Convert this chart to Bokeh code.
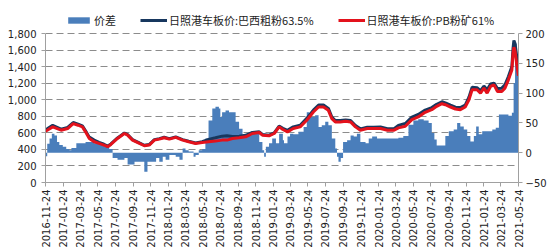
import numpy as np
import pandas as pd
from bokeh.plotting import figure
from bokeh.models import Range1d, LinearAxis, FixedTicker, NumeralTickFormatter, Legend, LegendItem
from bokeh.embed import file_html
from bokeh.resources import INLINE

# ---- data ----
line_dates = [
    "2016-11-24", "2016-11-30", "2016-12-19", "2017-01-17", "2017-02-09", "2017-02-28", "2017-03-17",
    "2017-04-01", "2017-04-12", "2017-04-25", "2017-05-12", "2017-05-29", "2017-06-15", "2017-06-28",
    "2017-07-09", "2017-08-01", "2017-08-25", "2017-09-05", "2017-09-22", "2017-10-16", "2017-11-02",
    "2017-11-19", "2017-12-07", "2017-12-24", "2018-01-10", "2018-01-28", "2018-02-19", "2018-03-15",
    "2018-04-05", "2018-04-29", "2018-05-22", "2018-06-13", "2018-07-07", "2018-07-30", "2018-08-16",
    "2018-09-04", "2018-09-27", "2018-10-20", "2018-11-12", "2018-12-06", "2018-12-17", "2019-01-09",
    "2019-01-27", "2019-02-13", "2019-02-26", "2019-03-14", "2019-04-03", "2019-04-27", "2019-05-20",
    "2019-06-12", "2019-06-30", "2019-07-17", "2019-08-03", "2019-08-15", "2019-08-27", "2019-09-13",
    "2019-10-02", "2019-10-19", "2019-11-05", "2019-11-22", "2019-12-16", "2020-01-07", "2020-01-31",
    "2020-02-24", "2020-03-18", "2020-04-02", "2020-04-26", "2020-05-19", "2020-06-10", "2020-07-04",
    "2020-07-27", "2020-08-13", "2020-08-31", "2020-09-12", "2020-09-30", "2020-10-17", "2020-11-03",
    "2020-11-20", "2020-12-03", "2020-12-14", "2020-12-31", "2021-01-12", "2021-01-24", "2021-02-04",
    "2021-02-16", "2021-02-28", "2021-03-12", "2021-03-27", "2021-04-07", "2021-04-19", "2021-05-01",
    "2021-05-05", "2021-05-08", "2021-05-12", "2021-05-18", "2021-05-24",
]
pb_price = [
    620, 632, 672, 632, 652, 712, 692, 672, 612, 532, 492, 472, 452, 432,
    460, 532, 592, 572, 512, 472, 444, 452, 512, 524, 540, 524, 545, 512,
    492, 472, 484, 492, 500, 512, 512, 532, 540, 552, 592, 604, 572, 564,
    592, 672, 640, 612, 652, 672, 752, 852, 912, 912, 872, 772, 732, 732,
    740, 732, 672, 632, 652, 652, 652, 632, 632, 660, 680, 760, 792, 848,
    880, 920, 952, 940, 912, 888, 880, 912, 1000, 1120, 1120, 1080, 1140, 1080,
    1160, 1180, 1100, 1100, 1140, 1240, 1360, 1560, 1634, 1590, 1420, 1290,
]
brazil_price = [
    635, 648, 690, 645, 665, 725, 705, 685, 625, 548, 512, 485, 462, 440,
    466, 538, 598, 578, 518, 478, 450, 458, 518, 530, 546, 530, 551, 518,
    498, 478, 494, 520, 540, 560, 565, 555, 560, 570, 605, 612, 580, 572,
    600, 682, 655, 630, 672, 692, 775, 875, 935, 935, 895, 790, 748, 748,
    755, 748, 688, 648, 668, 668, 670, 650, 650, 690, 712, 790, 822, 875,
    905, 945, 975, 962, 935, 910, 905, 935, 1030, 1150, 1145, 1110, 1165, 1120,
    1190, 1200, 1135, 1140, 1180, 1280, 1400, 1620, 1715, 1680, 1520, 1360,
]
spread_dates = [
    "2016-11-24", "2016-11-26", "2016-11-30", "2016-12-08", "2016-12-16", "2016-12-25", "2017-01-03",
    "2017-01-11", "2017-01-23", "2017-02-04", "2017-02-15", "2017-02-22", "2017-03-11", "2017-03-26",
    "2017-04-12", "2017-04-25", "2017-05-12", "2017-05-29", "2017-06-15", "2017-07-03", "2017-07-15",
    "2017-08-01", "2017-08-25", "2017-09-05", "2017-09-22", "2017-09-29", "2017-10-22", "2017-11-02",
    "2017-11-13", "2017-11-26", "2017-12-13", "2017-12-24", "2018-01-05", "2018-01-15", "2018-01-28",
    "2018-02-19", "2018-03-04", "2018-03-15", "2018-03-25", "2018-04-05", "2018-04-22", "2018-04-29",
    "2018-05-10", "2018-05-22", "2018-06-02", "2018-06-13", "2018-06-26", "2018-07-07", "2018-07-19",
    "2018-07-24", "2018-07-30", "2018-08-11", "2018-08-23", "2018-09-04", "2018-09-15", "2018-09-27",
    "2018-10-09", "2018-10-20", "2018-11-12", "2018-11-24", "2018-12-06", "2018-12-17", "2018-12-23",
    "2018-12-29", "2019-01-09", "2019-01-20", "2019-02-02", "2019-02-13", "2019-02-26", "2019-03-02",
    "2019-03-14", "2019-03-23", "2019-04-03", "2019-04-21", "2019-05-09", "2019-05-20", "2019-05-29",
    "2019-06-18", "2019-06-30", "2019-07-11", "2019-07-23", "2019-08-03", "2019-08-15", "2019-08-27",
    "2019-09-02", "2019-09-07", "2019-09-15", "2019-09-23", "2019-10-07", "2019-10-19", "2019-10-30",
    "2019-11-10", "2019-11-22", "2019-12-10", "2019-12-21", "2020-01-02", "2020-01-19", "2020-03-18",
    "2020-04-02", "2020-04-19", "2020-05-07", "2020-05-24", "2020-06-10", "2020-06-29", "2020-07-16",
    "2020-07-27", "2020-08-05", "2020-08-13", "2020-08-31", "2020-09-12", "2020-09-24", "2020-10-11",
    "2020-10-23", "2020-11-03", "2020-11-15", "2020-11-27", "2020-12-08", "2020-12-20", "2020-12-28",
    "2021-01-06", "2021-01-18", "2021-02-04", "2021-02-22", "2021-03-06", "2021-03-17", "2021-04-01",
    "2021-04-19", "2021-05-01", "2021-05-07", "2021-05-12", "2021-05-18", "2021-05-24",
]
spread = [
    -6, -6, 15, 24, 32, 29, 18,
    13, 10, 6, 4, 8, 16, 16,
    18, 18, 16, 13, 10, 6, -9,
    -12, -9, -20, -20, -15, -15, -32,
    -15, -15, -9, -15, -7, -12, -4,
    -7, -12, 7, 4, 2, -7, -4,
    4, 6, 24, 54, 74, 77, 74,
    60, 68, 71, 68, 68, 52, 40,
    29, 32, 35, 35, 18, 4, -7,
    10, 16, 24, 16, 32, 21, 16,
    27, 32, 31, 35, 43, 68, 60,
    63, 43, 46, 52, 46, 24, 7,
    -7, -15, -9, 18, 21, 29, 27,
    32, 18, 16, 24, 27, 24, 24,
    25, 28, 47, 54, 56, 54, 50,
    33, 22, 12, 12, 28, 36, 39,
    50, 44, 39, 28, 19, 28, 44,
    31, 36, 36, 39, 42, 64, 64,
    62, 67, 117, 183, 161, 128,
]
tick_labels = [
    "2016-11-24", "2017-01-24", "2017-03-24", "2017-05-24", "2017-07-24", "2017-09-24", "2017-11-24",
    "2018-01-24", "2018-03-24", "2018-05-24", "2018-07-24", "2018-09-24", "2018-11-24", "2019-01-24",
    "2019-03-24", "2019-05-24", "2019-07-24", "2019-09-24", "2019-11-24", "2020-01-24", "2020-03-24",
    "2020-05-24", "2020-07-24", "2020-09-24", "2020-11-24", "2021-01-24", "2021-03-24", "2021-05-24",
]
left_ticks = [0, 200, 400, 600, 800, 1000, 1200, 1400, 1600, 1800]
right_ticks = [-50, 0, 50, 100, 150, 200]

series_names = ["价差", "日照港车板价:巴西粗粉63.5%", "日照港车板价:PB粉矿61%"]


def ms(s):
    return float(pd.Timestamp(s).value // 10**6)


lx = [ms(d) for d in line_dates]
sx = [ms(d) for d in spread_dates]
tx = [ms(d) for d in tick_labels]

# layout in pixels: axes span 149 px; frame extended upward to hold the legend
W, H = 550, 250
B_LEFT, B_RIGHT, B_TOP, B_BOTTOM = 45, 32, 5, 68
axis_px = 149.0
frame_px = H - B_TOP - B_BOTTOM
scale = frame_px / axis_px
l0, l1 = left_ticks[0], left_ticks[-1]
r0, r1 = right_ticks[0], right_ticks[-1]
y_top = l0 + (l1 - l0) * scale
r_top = r0 + (r1 - r0) * scale

p = figure(width=W, height=H, x_axis_type="datetime", output_backend="svg",
           toolbar_location=None,
           x_range=Range1d(tx[0], tx[-1]), y_range=Range1d(l0, y_top),
           min_border_left=B_LEFT, min_border_right=B_RIGHT,
           min_border_top=B_TOP, min_border_bottom=B_BOTTOM)
p.extra_y_ranges = {"r": Range1d(r0, r_top)}
p.outline_line_color = None
p.background_fill_color = "white"
p.border_fill_color = "white"

area = p.varea_step(x=sx, y1=[0] * len(sx), y2=spread, y_range_name="r",
                    step_mode="after", fill_color="#4A7EBB")
blue = p.line(lx, brazil_price, line_color="#17375E", line_width=3)
red = p.line(lx, pb_price, line_color="#E3121C", line_width=3)

# axes
p.xgrid.visible = False
p.ygrid.grid_line_dash = "7 4"
p.ygrid.grid_line_color = "#8C8C8C"
p.ygrid.grid_line_width = 1

p.yaxis.ticker = FixedTicker(ticks=left_ticks)
p.yaxis.formatter = NumeralTickFormatter(format="0,0")
p.yaxis.bounds = (l0, l1)
p.xaxis.ticker = FixedTicker(ticks=tx)
p.xaxis.major_label_overrides = {t: lab for t, lab in zip(tx, tick_labels)}
p.xaxis.major_label_orientation = np.pi / 2

raxis = LinearAxis(y_range_name="r", ticker=FixedTicker(ticks=right_ticks), bounds=(r0, r1))
p.add_layout(raxis, "right")

for ax in [p.xaxis[0], p.yaxis[0], raxis]:
    ax.axis_line_color = "#A0A0A0"
    ax.major_tick_line_color = "#A0A0A0"
    ax.major_tick_out = 4
    ax.major_tick_in = 0
    ax.minor_tick_line_color = None
    ax.major_label_text_font = "DejaVu Sans"
    ax.major_label_text_font_size = "10px"
    ax.major_label_text_color = "#222222"
p.yaxis[0].major_label_standoff = 5
raxis.major_label_standoff = 3
p.xaxis[0].major_label_standoff = 3

legend = Legend(items=[
    LegendItem(label=series_names[0], renderers=[area]),
    LegendItem(label=series_names[1], renderers=[blue]),
    LegendItem(label=series_names[2], renderers=[red]),
], location=(20, frame_px - 23), orientation="horizontal")
legend.label_text_font = "Noto Sans CJK SC"
legend.label_text_font_size = "11px"
legend.label_text_color = "#222222"
legend.glyph_width = 27
legend.glyph_height = 8
legend.label_standoff = 2
legend.spacing = 24
legend.padding = 0
legend.margin = 0
legend.border_line_color = None
legend.background_fill_alpha = 0
p.add_layout(legend)

open("out.html", "w").write(file_html(p, INLINE))
